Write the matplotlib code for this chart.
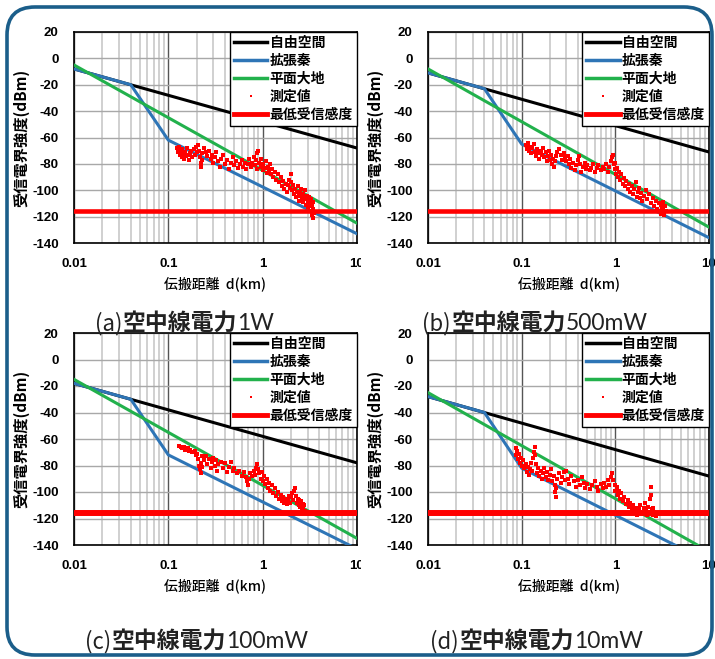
import numpy as np
import matplotlib
matplotlib.use('Agg')
import matplotlib.pyplot as plt
from matplotlib.patches import FancyBboxPatch
from matplotlib.lines import Line2D
from matplotlib.transforms import IdentityTransform, Bbox, TransformedBbox

plt.rcParams['axes.unicode_minus'] = False
JP = ['Noto Sans CJK JP', 'DejaVu Sans']
NUM = ['Liberation Sans', 'DejaVu Sans']
LAT = ['Lato', 'DejaVu Sans']

# --- datos ---
tags = ['(a)', '(b)', '(c)', '(d)']
caption = '空中線電力'
powers = ['1W', '500mW', '100mW', '10mW']
labels = ['自由空間', '拡張秦', '平面大地', '測定値', '最低受信感度']

d_line = [0.01, 10]                 # distancias de los tramos rectos (km)
d_hata = [0.01, 0.04, 0.1, 10]      # vertices del modelo de Hata extendido
free_space = [[-8, -68], [-11, -71], [-18, -78], [-28, -88]]
hata_ext = [[-8, -20, -62, -133], [-11, -23, -65, -136],
            [-18, -30, -72, -143], [-28, -40, -82, -153]]
plane_earth = [[-5, -125], [-8, -128], [-15, -135], [-25, -145]]
min_sens = -116

meas_a = [(0.125,-68),(0.128,-71),(0.13,-67),(0.132,-73),(0.135,-70),(0.138,-75),(0.14,-69),
          (0.143,-72),(0.146,-76),(0.15,-71),(0.153,-74),(0.156,-68),(0.16,-73),(0.165,-77),
          (0.17,-72),(0.175,-70),(0.18,-75),(0.185,-69),(0.19,-73),(0.195,-67),(0.2,-71),
          (0.205,-66),(0.21,-70),(0.215,-75),(0.22,-79),(0.222,-82),(0.225,-77),(0.23,-72),
          (0.24,-68),(0.25,-71),(0.26,-74),(0.27,-70),(0.28,-76),(0.29,-73),(0.3,-79),
          (0.31,-75),(0.32,-71),(0.34,-78),(0.35,-82),(0.36,-76),(0.38,-73),(0.4,-80),
          (0.42,-77),(0.44,-84),(0.46,-79),(0.48,-75),(0.5,-81),(0.52,-78),(0.55,-83),
          (0.57,-80),(0.6,-77),(0.62,-82),(0.65,-79),(0.67,-84),(0.7,-80),(0.72,-76),
          (0.75,-82),(0.77,-79),(0.8,-75),(0.82,-81),(0.85,-77),(0.87,-72),(0.88,-84),
          (0.9,-70),(0.92,-79),(0.95,-82),(0.97,-76),(1.0,-85),(1.02,-80),(1.05,-83),
          (1.08,-78),(1.1,-87),(1.13,-82),(1.16,-85),(1.2,-80),(1.23,-88),(1.27,-84),
          (1.3,-90),(1.35,-86),(1.4,-92),(1.45,-88),(1.5,-94),(1.55,-90),(1.6,-97),
          (1.65,-93),(1.7,-99),(1.75,-95),(1.8,-101),(1.85,-96),(1.9,-92),(1.95,-98),
          (2.0,-88),(2.02,-94),(2.05,-100),(2.1,-96),(2.15,-103),(2.2,-99),(2.25,-105),
          (2.3,-101),(2.35,-97),(2.4,-104),(2.45,-108),(2.5,-102),(2.55,-99),(2.6,-106),
          (2.65,-103),(2.7,-109),(2.75,-105),(2.8,-100),(2.85,-107),(2.9,-111),(2.95,-104),
          (3.0,-108),(3.05,-113),(3.1,-105),(3.15,-110),(3.2,-116),(3.25,-107),(3.3,-112),
          (3.35,-119),(3.4,-114),(3.45,-121),(3.5,-117),(3.38,-109)]

meas_b = [(0.11,-66),(0.113,-69),(0.116,-64),(0.12,-70),(0.123,-67),(0.126,-72),(0.13,-68),
          (0.134,-65),(0.138,-71),(0.142,-74),(0.146,-69),(0.15,-72),(0.155,-76),(0.16,-70),
          (0.165,-73),(0.17,-68),(0.175,-75),(0.18,-71),(0.185,-78),(0.19,-74),(0.195,-70),
          (0.2,-77),(0.205,-73),(0.21,-80),(0.215,-76),(0.22,-82),(0.225,-78),(0.23,-74),
          (0.24,-71),(0.25,-69),(0.26,-73),(0.27,-77),(0.28,-72),(0.29,-75),(0.3,-78),
          (0.31,-74),(0.32,-80),(0.33,-76),(0.34,-83),(0.35,-79),(0.37,-85),(0.38,-81),
          (0.4,-77),(0.41,-74),(0.42,-80),(0.43,-86),(0.45,-82),(0.47,-79),(0.49,-84),
          (0.5,-81),(0.53,-85),(0.55,-83),(0.58,-80),(0.6,-86),(0.63,-83),(0.66,-81),
          (0.7,-85),(0.73,-82),(0.76,-84),(0.8,-80),(0.83,-86),(0.86,-82),(0.9,-78),
          (0.92,-75),(0.94,-73),(0.96,-80),(0.98,-84),(1.0,-79),(1.02,-88),(1.05,-83),
          (1.08,-90),(1.1,-86),(1.13,-92),(1.16,-88),(1.2,-95),(1.23,-91),(1.27,-97),
          (1.3,-93),(1.35,-99),(1.4,-95),(1.45,-101),(1.5,-97),(1.55,-103),(1.6,-99),
          (1.65,-94),(1.7,-105),(1.75,-101),(1.8,-98),(1.85,-106),(1.9,-102),(1.95,-108),
          (2.0,-104),(2.1,-100),(2.2,-107),(2.3,-103),(2.4,-110),(2.5,-106),(2.6,-112),
          (2.7,-108),(2.8,-114),(2.9,-110),(3.0,-116),(3.05,-111),(3.1,-118),(3.15,-113),
          (3.2,-109),(3.25,-115),(3.3,-119),(3.4,-112),(3.5,-116)]

meas_c = [(0.13,-65),(0.135,-66),(0.14,-67),(0.145,-66),(0.15,-68),(0.16,-67),(0.165,-69),
          (0.17,-68),(0.18,-70),(0.19,-69),(0.195,-72),(0.2,-71),(0.205,-75),(0.21,-80),
          (0.215,-83),(0.22,-78),(0.222,-86),(0.225,-73),(0.23,-81),(0.24,-76),(0.25,-73),
          (0.26,-79),(0.27,-75),(0.28,-82),(0.29,-77),(0.3,-74),(0.31,-80),(0.32,-76),
          (0.33,-84),(0.34,-79),(0.36,-77),(0.38,-82),(0.4,-78),(0.42,-85),(0.44,-81),
          (0.46,-77),(0.48,-84),(0.5,-82),(0.53,-86),(0.56,-84),(0.6,-88),(0.63,-85),
          (0.66,-89),(0.68,-92),(0.7,-95),(0.72,-90),(0.74,-86),(0.77,-88),(0.8,-84),
          (0.83,-87),(0.86,-82),(0.88,-79),(0.9,-83),(0.92,-86),(0.95,-90),(0.98,-85),
          (1.0,-92),(1.03,-88),(1.06,-94),(1.1,-90),(1.13,-97),(1.16,-93),(1.2,-99),
          (1.25,-95),(1.3,-101),(1.35,-97),(1.4,-103),(1.45,-100),(1.5,-105),(1.55,-102),
          (1.6,-107),(1.65,-104),(1.7,-108),(1.75,-105),(1.8,-109),(1.85,-106),(1.9,-103),
          (1.95,-108),(2.0,-104),(2.05,-101),(2.1,-106),(2.15,-99),(2.2,-97),(2.25,-103),
          (2.3,-108),(2.35,-105),(2.4,-110),(2.45,-106),(2.5,-111),(2.55,-107),(2.6,-112),
          (2.65,-109),(2.7,-113),(2.75,-110),(2.8,-114)]

meas_d = [(0.086,-67),(0.088,-72),(0.09,-69),(0.092,-75),(0.094,-71),(0.096,-78),(0.098,-74),
          (0.1,-80),(0.103,-76),(0.106,-82),(0.11,-79),(0.113,-85),(0.116,-81),(0.12,-87),
          (0.123,-83),(0.126,-78),(0.13,-84),(0.133,-74),(0.136,-70),(0.138,-66),(0.14,-72),
          (0.143,-79),(0.146,-86),(0.15,-82),(0.155,-88),(0.16,-84),(0.165,-90),(0.17,-86),
          (0.175,-82),(0.18,-89),(0.185,-85),(0.19,-91),(0.2,-87),(0.205,-83),(0.21,-92),
          (0.22,-88),(0.225,-95),(0.228,-100),(0.23,-104),(0.233,-97),(0.24,-90),(0.25,-86),
          (0.26,-93),(0.27,-89),(0.28,-85),(0.29,-91),(0.3,-84),(0.31,-90),(0.32,-94),
          (0.34,-88),(0.36,-92),(0.38,-96),(0.4,-91),(0.42,-95),(0.44,-89),(0.46,-93),
          (0.48,-97),(0.5,-94),(0.53,-98),(0.56,-95),(0.6,-92),(0.63,-96),(0.66,-99),
          (0.7,-94),(0.73,-97),(0.76,-93),(0.8,-96),(0.83,-91),(0.86,-95),(0.9,-89),
          (0.93,-86),(0.95,-91),(0.98,-95),(1.0,-99),(1.03,-96),(1.06,-102),(1.1,-99),
          (1.13,-105),(1.16,-101),(1.2,-107),(1.25,-104),(1.3,-109),(1.35,-106),(1.4,-111),
          (1.45,-108),(1.5,-113),(1.55,-110),(1.6,-115),(1.65,-112),(1.7,-117),(1.8,-113),
          (1.85,-110),(1.9,-116),(2.0,-112),(2.05,-108),(2.1,-114),(2.2,-117),(2.25,-111),
          (2.3,-115),(2.35,-105),(2.4,-96),(2.42,-102),(2.45,-113),(2.5,-117),(2.55,-112),
          (2.6,-115),(2.7,-118)]
measured = [meas_a, meas_b, meas_c, meas_d]

c_black, c_blue, c_green, c_red = '#000000', '#2e75b6', '#22b14c', '#ff0000'

W, H = 715, 659
fig = plt.figure(figsize=(W / 100, H / 100), dpi=100)

# posiciones de los ejes en pixeles (izq, der, arriba, abajo)
boxes = [(74, 357, 32, 243), (428, 709, 32, 243), (74, 357, 333, 545), (428, 709, 333, 545)]
cap_pos = [(95, 329), (422, 329), (85, 11), (430, 11)]   # inicio x y linea base (pixeles desde abajo)
clip_x = [361, 715, 361, 715]

for i in range(4):
    l, r, t, b = boxes[i]
    ax = fig.add_axes([l / W, 1 - b / H, (r - l) / W, (b - t) / H])
    ax.set_xscale('log')
    ax.set_xlim(0.01, 10)
    ax.set_ylim(-140, 20)
    ax.set_yticks(np.arange(-140, 21, 20))
    ax.set_xticks([0.01, 0.1, 1, 10])
    ax.set_xticklabels(['0.01', '0.1', '1', '10'])
    ax.set_axisbelow(True)
    ax.grid(which='minor', axis='x', color='#c8c8c8', lw=1.2)
    ax.grid(which='major', axis='x', color='#555555', lw=1.0)
    ax.grid(which='major', axis='y', color='#a8a8a8', lw=1.0)
    ax.tick_params(which='both', length=0)
    ax.tick_params(axis='y', pad=11)
    ax.tick_params(axis='x', pad=11)
    for lab in ax.get_xticklabels() + ax.get_yticklabels():
        lab.set_fontfamily(NUM)
        lab.set_fontweight('bold')
        lab.set_fontsize(9.5)
    for sp in ax.spines.values():
        sp.set_linewidth(1.2)
        sp.set_color('black')

    lw_red = 3.3 if i < 2 else 4.3
    ax.plot(d_line, free_space[i], color=c_black, lw=2.2, zorder=3)
    ax.plot(d_hata, hata_ext[i], color=c_blue, lw=2.2, zorder=3)
    ax.plot(d_line, plane_earth[i], color=c_green, lw=2.2, zorder=3)
    mx = [p[0] for p in measured[i]]
    my = [p[1] for p in measured[i]]
    ax.plot(mx, my, linestyle='none', marker='s', ms=2.9, mew=0, color=c_red, zorder=4)
    ax.axhline(min_sens, color=c_red, lw=lw_red, zorder=5)

    ax.set_ylabel('受信電界強度(dBm)', fontfamily=JP, fontsize=11, fontweight='bold', labelpad=2)
    ax.set_xlabel('伝搬距離  d(km)', fontfamily=JP, fontsize=10, fontweight='medium', labelpad=4)

    # recortar la etiqueta "10" como en el original
    cb = TransformedBbox(Bbox([[0, 0], [clip_x[i], H]]), IdentityTransform())
    ax.get_xticklabels()[-1].set_clip_box(cb)
    ax.get_xticklabels()[-1].set_clip_on(True)

    handles = [Line2D([], [], color=c_black, lw=2.5),
               Line2D([], [], color=c_blue, lw=2.5),
               Line2D([], [], color=c_green, lw=2.5),
               Line2D([], [], color=c_red, ls='none', marker='s', ms=2, mew=0),
               Line2D([], [], color=c_red, lw=3.5)]
    leg = ax.legend(handles, labels, loc='upper right', bbox_to_anchor=(1, 1),
                    borderaxespad=0, prop={'family': JP, 'size': 10, 'weight': 'bold'},
                    handlelength=2.4, handletextpad=0.15, labelspacing=0.28,
                    borderpad=0.3, fancybox=False, framealpha=1, edgecolor='black')
    leg.get_frame().set_linewidth(1.0)
    leg.set_zorder(10)

    # leyenda de cada panel: "(a)" + "空中線電力" + potencia
    cx, cy = cap_pos[i]
    t1 = fig.text(cx / W, cy / H, tags[i], fontfamily=JP, fontsize=16,
                  color='#222222', ha='left', va='baseline')
    t2 = fig.add_artist(matplotlib.text.Annotation(
        caption, xy=(1.0, cy), xycoords=(t1, 'figure pixels'), xytext=(0.5, 0),
        textcoords='offset points', ha='left', va='baseline',
        fontfamily=JP, fontsize=16.5, fontweight='bold', color='#222222'))
    fig.add_artist(matplotlib.text.Annotation(
        powers[i], xy=(1.0, cy), xycoords=(t2, 'figure pixels'), xytext=(0, 0),
        textcoords='offset points', ha='left', va='baseline',
        fontfamily=LAT, fontsize=16.5, color='#222222'))

# marco redondeado azul
frame = FancyBboxPatch((7, 4), 705, 648, boxstyle='round,pad=0,rounding_size=28',
                       transform=IdentityTransform(), fill=False,
                       edgecolor='#1b5e8a', lw=2.6, zorder=20)
fig.patches.append(frame)

fig.savefig('out.png', dpi=100)
